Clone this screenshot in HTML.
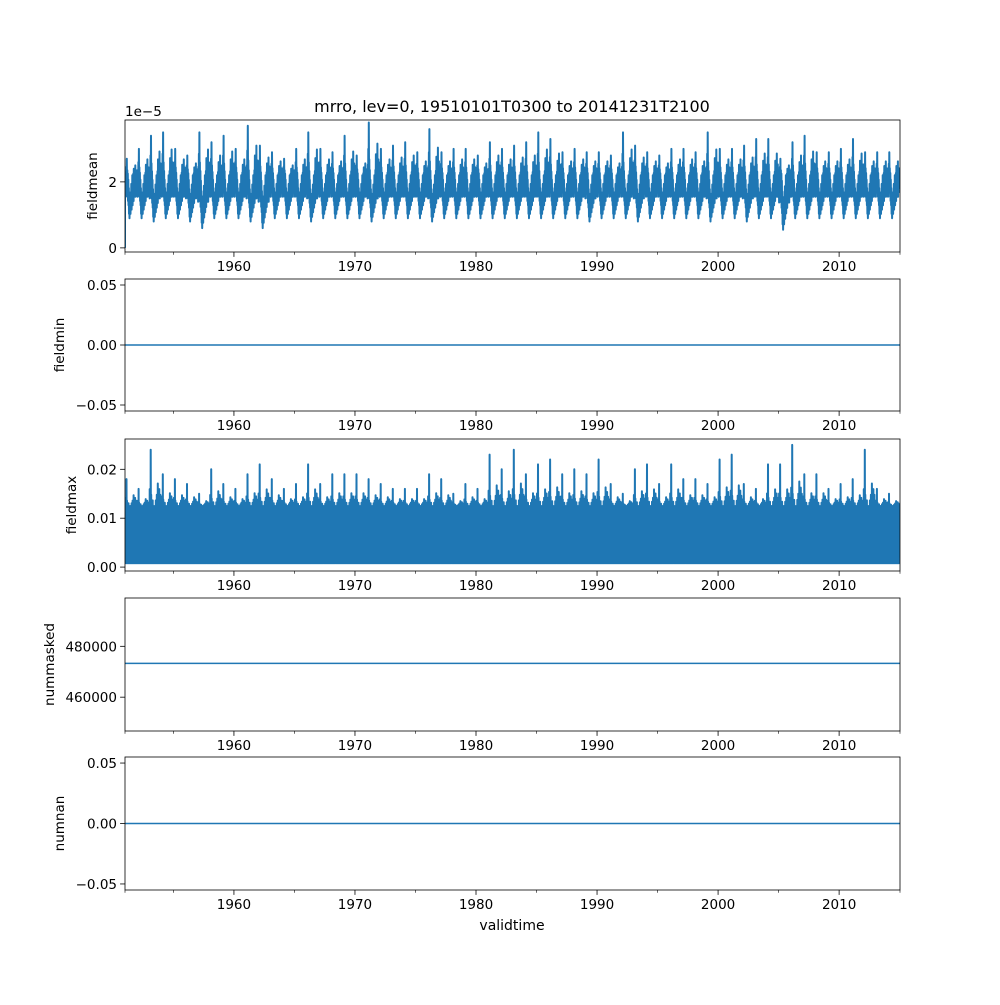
<!DOCTYPE html>
<html><head><meta charset="utf-8">
<style>
html,body{margin:0;padding:0;background:#fff;}
svg text{font-family:"DejaVu Sans","Liberation Sans",sans-serif;fill:#000;}
</style></head>
<body>
<svg id="fig" width="1000" height="1000" viewBox="0 0 1000 1000" xmlns="http://www.w3.org/2000/svg">
<rect width="1000" height="1000" fill="#fff"/>
<text x="512" y="112" font-size="16" text-anchor="middle">mrro, lev=0, 19510101T0300 to 20141231T2100</text>
<g id="plots"></g>
<text x="512" y="930" font-size="14" text-anchor="middle">validtime</text>
</svg>
<script>
// ---- data ----
const years = [];
for (let y = 1951; y <= 2014; y++) years.push(y);
const meanPeak = [2.7,3.0,3.4,3.5,3.0,2.8,3.5,3.2,3.4,3.0,3.7,3.1,2.9,2.7,3.0,3.5,3.0,2.9,3.4,2.8,3.8,3.0,3.1,3.2,2.9,3.6,2.9,3.0,3.0,2.8,3.2,3.0,3.1,3.2,3.5,3.3,2.9,3.0,2.9,2.9,2.8,3.5,3.1,2.9,2.8,3.0,3.0,2.9,3.5,3.0,3.0,3.1,3.3,3.3,2.7,3.2,3.4,2.9,2.9,3.0,3.3,2.9,2.9,2.9];
const meanLow = [0.9,0.9,0.8,0.9,0.9,0.8,0.6,0.9,0.9,0.9,0.8,0.6,0.9,0.9,0.9,0.8,0.9,0.9,0.9,0.9,0.8,0.9,0.9,0.9,0.9,0.8,0.9,0.9,0.9,0.9,0.9,0.9,0.9,0.9,0.9,0.9,0.9,0.9,0.8,0.9,0.9,0.9,0.8,0.9,0.9,0.9,0.9,0.9,0.8,0.9,0.9,0.8,0.9,0.9,0.55,0.9,0.9,0.9,0.9,0.9,0.9,0.9,0.9,0.9];
const maxPeak = [0.018,0.016,0.024,0.019,0.018,0.017,0.015,0.020,0.017,0.016,0.019,0.021,0.018,0.016,0.017,0.021,0.017,0.019,0.019,0.019,0.018,0.017,0.016,0.016,0.016,0.019,0.018,0.015,0.017,0.016,0.023,0.020,0.024,0.019,0.021,0.022,0.019,0.020,0.019,0.022,0.017,0.015,0.020,0.021,0.017,0.021,0.018,0.018,0.017,0.022,0.023,0.017,0.016,0.021,0.021,0.025,0.019,0.019,0.016,0.017,0.018,0.024,0.016,0.015];
const meanHigh = 2.2, maxHigh = 0.0125, maxLowVal = 0.0008;
const fieldminVal = 0, nummaskedVal = 473300, numnanVal = 0;
const xTicks = [1960,1970,1980,1990,2000,2010];
const xMinor = [1955,1965,1975,1985,1995,2005];
// within-year shape templates: 0..1 = low..high, >1 interpolates high..peak (2 = peak)
const meanShape = [0.6,1.0,0.5,1.2,0.7,1.5,0.6,2.0,0.8,1.3,0.5,1.1,0.4,0.9,0.3,0.7,0.1,0.5,0.0,0.4,0.2,0.6,0.1,0.5,0.3,0.8,0.2,0.7,0.4,1.0,0.3,0.9,0.5,1.1,0.4,1.4,0.6,1.0,0.5,1.2,0.7,1.6,0.5,1.1,0.6,1.3,0.7,1.0];
const maxShape = [1.0,0.0,1.3,0.1,1.1,0.0,2.0,0.1,1.2,0.0,1.0,0.1,0.9,0.0,1.1,0.1,0.8,0.0,1.0,0.1,0.9,0.0,1.0,0.1,0.8,0.0,1.1,0.1,1.0,0.0,1.2,0.1,1.0,0.0,1.4,0.1,1.1,0.0,1.0,0.1,1.3,0.0,1.0,0.1,1.2,0.0,1.1,0.1];

// ---- layout ----
const L = 125, R = 900;
const xMin = 1951.0, xMax = 2015.03;
const X = v => L + (v - xMin) / (xMax - xMin) * (R - L);
const panels = [
  {top:120,bot:252,ymin:-0.125,ymax:3.875,label:'fieldmean',ticks:[0,2],fmt:v=>String(v),name:'fieldmean'},
  {top:279,bot:411,ymin:-0.055,ymax:0.055,label:'fieldmin',ticks:[-0.05,0,0.05],fmt:v=>v.toFixed(2).replace('-','−'),name:'fieldmin'},
  {top:439,bot:571,ymin:-0.0008,ymax:0.0262,label:'fieldmax',ticks:[0,0.01,0.02],fmt:v=>v.toFixed(2),name:'fieldmax'},
  {top:598,bot:731,ymin:446700,ymax:499000,label:'nummasked',ticks:[460000,480000],fmt:v=>String(v),name:'nummasked'},
  {top:757,bot:890,ymin:-0.055,ymax:0.055,label:'numnan',ticks:[-0.05,0,0.05],fmt:v=>v.toFixed(2).replace('-','−'),name:'numnan'}
];
const NS = 'http://www.w3.org/2000/svg';
const root = document.getElementById('plots');
function mk(tag, attrs, parent){const e=document.createElementNS(NS,tag);for(const k in attrs)e.setAttribute(k,attrs[k]);parent.appendChild(e);return e;}
function lvl(s, lo, hi, pk){ return s<=1 ? lo + s*(hi-lo) : hi + (s-1)*(pk-hi); }

panels.forEach((p,pi)=>{
  const g = mk('g',{},root);
  
  
  const Y = v => p.bot - (v - p.ymin)/(p.ymax - p.ymin)*(p.bot - p.top);
  const cid = 'clip'+pi;
  const cp = mk('clipPath',{id:cid},g);
  mk('rect',{x:L,y:p.top,width:R-L,height:p.bot-p.top},cp);
  let pts = [];
  let sw = 1.5;
  if (pi===0){
    pts.push([X(xMin),Y(0)]);
    years.forEach((yr,i)=>{
      meanShape.forEach((s,k)=>{
        pts.push([X(yr + k/meanShape.length), Y(lvl(s, meanLow[i], meanHigh, meanPeak[i]))]);
      });
    });
    sw = 2;
  } else if (pi===2){
    years.forEach((yr,i)=>{
      maxShape.forEach((s,k)=>{
        pts.push([X(yr + k/maxShape.length), Y(lvl(s, maxLowVal, maxHigh, maxPeak[i]))]);
      });
    });
    sw = 2;
  } else {
    const v = pi===1?fieldminVal:(pi===3?nummaskedVal:numnanVal);
    pts.push([X(xMin),Y(v)],[X(xMax),Y(v)]);
  }
  const line = mk('polyline',{points:pts.map(q=>q[0].toFixed(1)+','+q[1].toFixed(1)).join(' '),fill:'none',stroke:'#1f77b4','stroke-width':sw,'stroke-linejoin':'round','clip-path':'url(#'+cid+')'},g);
  
  
  const fr = mk('rect',{x:L,y:p.top,width:R-L,height:p.bot-p.top,fill:'none',stroke:'#000','stroke-width':0.8},g);
  
  
  xTicks.forEach(t=>{
    mk('line',{x1:X(t),x2:X(t),y1:p.bot,y2:p.bot+4.9,stroke:'#000','stroke-width':0.8},g);
    const tx = mk('text',{x:X(t),y:p.bot+19,'font-size':13.5,'text-anchor':'middle'},g);
    tx.textContent = t;
    
    
  });
  xMinor.concat([xMin, xMax]).forEach(t=>{
    mk('line',{x1:X(t),x2:X(t),y1:p.bot,y2:p.bot+2.8,stroke:'#000','stroke-width':0.6},g);
  });
  p.ticks.forEach(t=>{
    mk('line',{x1:L-4.9,x2:L,y1:Y(t),y2:Y(t),stroke:'#000','stroke-width':0.8},g);
    const ty = mk('text',{x:L-8,y:Y(t)+5,'font-size':13.5,'text-anchor':'end'},g);
    ty.textContent = p.fmt(t);
    
    
  });
  const lx = pi===0?97:(pi===3?54:(pi===2?76:64));
  const yl = mk('text',{x:lx,y:(p.top+p.bot)/2,'font-size':13.5,'text-anchor':'middle',transform:'rotate(-90 '+lx+' '+((p.top+p.bot)/2)+')'},g);
  yl.textContent = p.label;
  
  
  if (pi===0){
    const off = mk('text',{x:L,y:p.top-4,'font-size':13.5},g);
    off.textContent = '1e−5';
    
    
  }
});
</script>
</body></html>
